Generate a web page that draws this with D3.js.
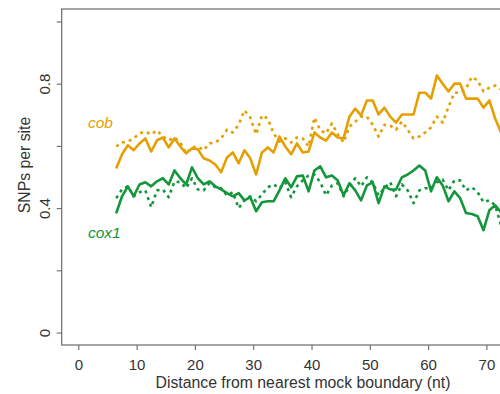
<!DOCTYPE html>
<html><head><meta charset="utf-8">
<script src="https://cdn.jsdelivr.net/npm/d3@7"></script>
<style>
html,body{margin:0;padding:0;background:#fff;}
svg{display:block;}
text{font-family:"Liberation Sans",Arial,Helvetica,sans-serif;}
</style></head>
<body><svg id="chart" width="500" height="394"></svg>
<script>
const distance = [6.5,7.5,8.5,9.5,10.5,11.5,12.5,13.5,14.5,15.5,16.5,17.5,18.5,19.5,20.5,21.5,22.5,23.5,24.5,25.5,26.5,27.5,28.5,29.5,30.5,31.5,32.5,33.5,34.5,35.5,36.5,37.5,38.5,39.5,40.5,41.5,42.5,43.5,44.5,45.5,46.5,47.5,48.5,49.5,50.5,51.5,52.5,53.5,54.5,55.5,56.5,57.5,58.5,59.5,60.5,61.5,62.5,63.5,64.5,65.5,66.5,67.5,68.5,69.5,70.5,71.5,72.5];
const cobSolid = [0.527,0.573,0.602,0.586,0.608,0.624,0.582,0.618,0.627,0.595,0.624,0.598,0.576,0.592,0.589,0.560,0.553,0.540,0.515,0.563,0.579,0.544,0.586,0.560,0.508,0.579,0.595,0.579,0.630,0.598,0.573,0.608,0.579,0.582,0.643,0.627,0.617,0.643,0.627,0.624,0.694,0.720,0.698,0.746,0.746,0.701,0.723,0.694,0.675,0.701,0.701,0.701,0.771,0.771,0.752,0.826,0.800,0.775,0.800,0.800,0.752,0.752,0.752,0.723,0.746,0.688,0.643];
const cobDotted = [0.598,0.611,0.614,0.624,0.640,0.646,0.637,0.650,0.630,0.618,0.627,0.611,0.576,0.595,0.598,0.586,0.608,0.611,0.624,0.652,0.643,0.668,0.714,0.691,0.637,0.698,0.688,0.640,0.614,0.624,0.611,0.627,0.624,0.598,0.691,0.650,0.640,0.672,0.637,0.611,0.662,0.678,0.694,0.694,0.668,0.630,0.668,0.665,0.652,0.678,0.652,0.624,0.630,0.643,0.659,0.694,0.675,0.726,0.771,0.771,0.784,0.822,0.810,0.775,0.787,0.794,0.781];
const cox1Solid = [0.383,0.438,0.470,0.438,0.476,0.483,0.470,0.486,0.496,0.476,0.521,0.496,0.476,0.531,0.496,0.476,0.486,0.470,0.460,0.448,0.438,0.448,0.425,0.435,0.390,0.419,0.422,0.422,0.457,0.496,0.467,0.502,0.505,0.454,0.521,0.534,0.499,0.505,0.489,0.441,0.480,0.457,0.425,0.473,0.483,0.416,0.470,0.460,0.460,0.499,0.508,0.521,0.537,0.521,0.454,0.499,0.473,0.422,0.454,0.432,0.384,0.381,0.374,0.329,0.393,0.409,0.387];
const cox1Dotted = [0.432,0.460,0.470,0.438,0.451,0.457,0.403,0.457,0.460,0.435,0.486,0.483,0.464,0.496,0.460,0.457,0.480,0.467,0.464,0.441,0.451,0.400,0.425,0.438,0.422,0.444,0.467,0.476,0.464,0.483,0.435,0.470,0.489,0.505,0.508,0.483,0.441,0.473,0.480,0.438,0.470,0.496,0.470,0.499,0.483,0.441,0.464,0.483,0.438,0.476,0.457,0.416,0.457,0.464,0.464,0.483,0.492,0.457,0.489,0.489,0.457,0.467,0.451,0.419,0.425,0.409,0.345];
const xTicks = [0,10,20,30,40,50,60,70];
const yTicks = [0,0.2,0.4,0.6,0.8,1.0];
const yTickLabels = ["0","","0.4","","0.8",""];
const seriesNames = ["cob","cox1"];
const seriesColors = ["#E69F00","#14963C"];

const svg = d3.select("#chart");
const plot = {left:61.7, top:9, bottom:345};
const x = d3.scaleLinear().domain([-2.85, 80]).range([plot.left, plot.left + 82.85*5.83]);
const y = d3.scaleLinear().domain([-0.04, 1.04]).range([plot.bottom, plot.top]);
const axisColor = "#6a6a6a";
const textColor = "#333";

// frame
svg.append("rect").attr("x", plot.left).attr("y", plot.top)
  .attr("width", x(80) - plot.left + 40).attr("height", plot.bottom - plot.top)
  .attr("fill","none").attr("stroke",axisColor).attr("stroke-width",1.2);

// x axis
const xAxis = svg.append("g").attr("transform",`translate(0,${plot.bottom})`)
  .call(d3.axisBottom(x).tickValues(xTicks).tickSize(5).tickFormat(d3.format("d")));
xAxis.select(".domain").remove();
xAxis.selectAll("line").attr("stroke",axisColor).attr("stroke-width",1.1);
xAxis.selectAll("text").attr("fill",textColor).attr("font-size","15px").attr("dy",null).attr("y",25);

// y axis
const yAxis = svg.append("g").attr("transform",`translate(${plot.left},0)`)
  .call(d3.axisLeft(y).tickValues(yTicks).tickSize(5).tickFormat((d,i)=>yTickLabels[i]));
yAxis.select(".domain").remove();
yAxis.selectAll("line").attr("stroke",axisColor).attr("stroke-width",1.1);
yAxis.selectAll("text").attr("fill",textColor).attr("font-size","15px")
  .attr("x",null).attr("dy",null)
  .attr("text-anchor","middle")
  .attr("transform","translate(-11.7,0) rotate(-90)");

// axis titles
svg.append("text").attr("x", 303).attr("y", 388.3).attr("text-anchor","middle")
  .attr("font-size","15.8px").attr("fill",textColor)
  .text("Distance from nearest mock boundary (nt)");
svg.append("text").attr("transform","translate(29.5,165) rotate(-90)").attr("text-anchor","middle")
  .attr("font-size","15.8px").attr("fill",textColor).text("SNPs per site");

const line = d3.line().x((d,i)=>x(distance[i])).y(d=>y(d));
const series = [
  {vals:cobDotted, color:seriesColors[0], dash:"3,4"},
  {vals:cox1Dotted, color:seriesColors[1], dash:"3,4"},
  {vals:cobSolid, color:seriesColors[0], dash:null},
  {vals:cox1Solid, color:seriesColors[1], dash:null}
];
series.forEach(s=>{
  svg.append("path").datum(s.vals).attr("d",line)
    .attr("fill","none").attr("stroke",s.color).attr("stroke-width",2.6)
    .attr("stroke-linejoin","round")
    .attr("stroke-dasharray",s.dash);
});

// series labels
svg.append("text").attr("x",88).attr("y",128.3).attr("font-size","15.5px")
  .attr("font-style","italic").attr("fill",seriesColors[0]).text(seriesNames[0]);
svg.append("text").attr("x",88).attr("y",238.3).attr("font-size","15.5px")
  .attr("font-style","italic").attr("fill",seriesColors[1]).text(seriesNames[1]);
</script></body></html>
